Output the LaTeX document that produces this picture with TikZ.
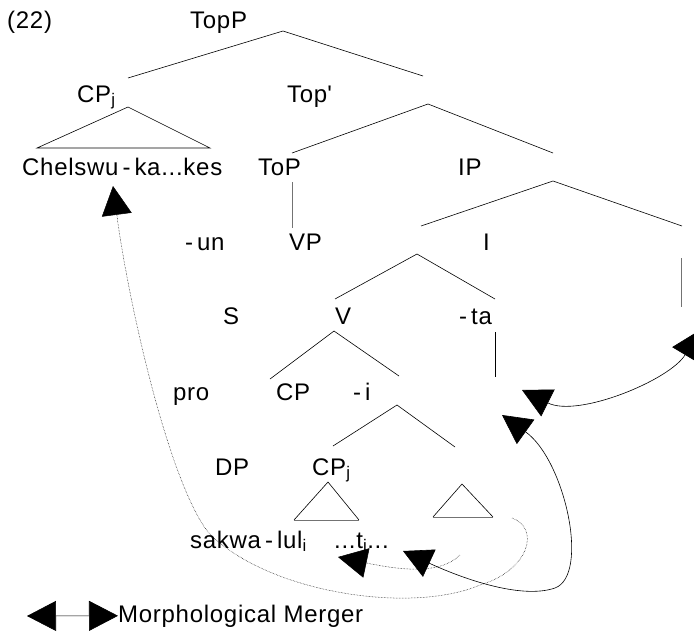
\documentclass[tikz,border=0pt]{standalone}
\usepackage{fontspec}
\setmainfont{Liberation Sans}[LetterSpace=3]
\usetikzlibrary{arrows.meta}

\begin{document}
\begin{tikzpicture}[x=1pt, y=-1pt,
  lbl/.style={anchor=base west, inner sep=0pt, font=\fontsize{24}{28}\selectfont},
  branch/.style={line width=0.6pt},
  faint/.style={line width=0.6pt, black!55},
  move/.style={densely dotted, line width=0.5pt, -{Triangle[length=29pt,width=30pt]}},
  merger/.style={line width=0.6pt, {Triangle[length=29pt,width=30pt]}-{Triangle[length=29pt,width=30pt]}}]
\useasboundingbox (0,0) rectangle (694,632);

% labels, row by row
\node[lbl] (ex) at (7,28) {(22)};
\node[lbl] (topp) at (190,28) {TopP};

\node[lbl] (cpj) at (77,102) {CP\textsubscript{j}};
\node[lbl] (topbar) at (287,102) {Top\textquotesingle};

\node[lbl] (chelswu) at (22,175) {Chelswu\,-\,ka...kes};
\node[lbl] (top) at (258,175) {ToP};
\node[lbl] (ip) at (458,175) {IP};

\node[lbl] (un) at (185,250) {-\,un};
\node[lbl] (vp) at (289,250) {VP};
\node[lbl] (i) at (483,250) {I};

\node[lbl] (s) at (223,324) {S};
\node[lbl] (v) at (335,324) {V};
\node[lbl] (ta) at (459,324) {-\,ta};

\node[lbl] (pro) at (173,400) {pro};
\node[lbl] (cp) at (276,400) {CP};
\node[lbl] (ii) at (353,400) {-\,i};

\node[lbl] (dp) at (215,475) {DP};
\node[lbl] (cpjj) at (312,475) {CP\textsubscript{j}};

\node[lbl] (sakwa) at (190,548) {sakwa\,-\,lul\textsubscript{i}};
\node[lbl] (trace) at (334,548) {...t\textsubscript{i}...};

\node[lbl] (key) at (118,622) {Morphological Merger};

% branches
\coordinate (a1) at (283,31);
\coordinate (a1l) at (128,78);
\coordinate (a1r) at (423,76);
\draw[branch] (a1l) -- (a1) -- (a1r);

\coordinate (t1) at (128,107);
\coordinate (t1l) at (37,148);
\coordinate (t1r) at (210,148);
\draw[branch] (t1l) -- (t1) -- (t1r) -- cycle;

\coordinate (a2) at (428,104);
\coordinate (a2l) at (292,153);
\coordinate (a2r) at (553,153);
\draw[branch] (a2l) -- (a2) -- (a2r);

\coordinate (v1) at (292,182);
\coordinate (v1b) at (292,228);
\draw[faint] (v1) -- (v1b);

\coordinate (a3) at (553,181);
\coordinate (a3l) at (421,226);
\coordinate (a3r) at (682,226);
\draw[branch] (a3l) -- (a3) -- (a3r);

\coordinate (v2) at (681,258);
\coordinate (v2b) at (681,307);
\draw[faint] (v2) -- (v2b);

\coordinate (a4) at (417,254);
\coordinate (a4l) at (335,299);
\coordinate (a4r) at (495,299);
\draw[branch] (a4l) -- (a4) -- (a4r);

\coordinate (a5) at (334,331);
\coordinate (a5l) at (270,379);
\coordinate (a5r) at (399,376);
\draw[branch] (a5l) -- (a5) -- (a5r);

\coordinate (v3) at (495,332);
\coordinate (v3b) at (495,377);
\draw[branch] (v3) -- (v3b);

\coordinate (a6) at (397,405);
\coordinate (a6l) at (333,446);
\coordinate (a6r) at (455,447);
\draw[branch] (a6l) -- (a6) -- (a6r);

\coordinate (t2) at (328,482);
\coordinate (t2l) at (294,520);
\coordinate (t2r) at (359,520);
\draw[branch] (t2l) -- (t2) -- (t2r);
\draw[faint] (t2l) -- (t2r);

\coordinate (t3) at (462,484);
\coordinate (t3l) at (433,517);
\coordinate (t3r) at (493,517);
\draw[branch] (t3l) -- (t3) -- (t3r);
\draw[faint] (t3l) -- (t3r);

% movement (dotted) and merger (solid) arrows
\coordinate (m1s) at (512,518);
\coordinate (m1t) at (113,186);
\draw[move] (m1s) .. controls (540,528) and (530,570) .. (480,585)
  .. controls (410,615) and (265,592) .. (208,532)
  .. controls (168,480) and (128,300) .. (m1t);

\coordinate (m2s) at (460,555);
\coordinate (m2t) at (338,557);
\draw[move] (m2s) .. controls (440,575) and (400,570) .. (m2t);

\coordinate (g1a) at (403,551);
\coordinate (g1b) at (502,415);
\draw[merger] (g1a) .. controls (459,577) and (520,600) .. (555,588)
  .. controls (590,575) and (565,460) .. (g1b);

\coordinate (g2a) at (522,390);
\coordinate (g2b) at (700,330);
\draw[merger] (g2a) .. controls (578,418) and (670,380) .. (g2b);

% key
\coordinate (k) at (27,616);
\draw[merger] (k) -- (key.west);
\end{tikzpicture}
\end{document}
